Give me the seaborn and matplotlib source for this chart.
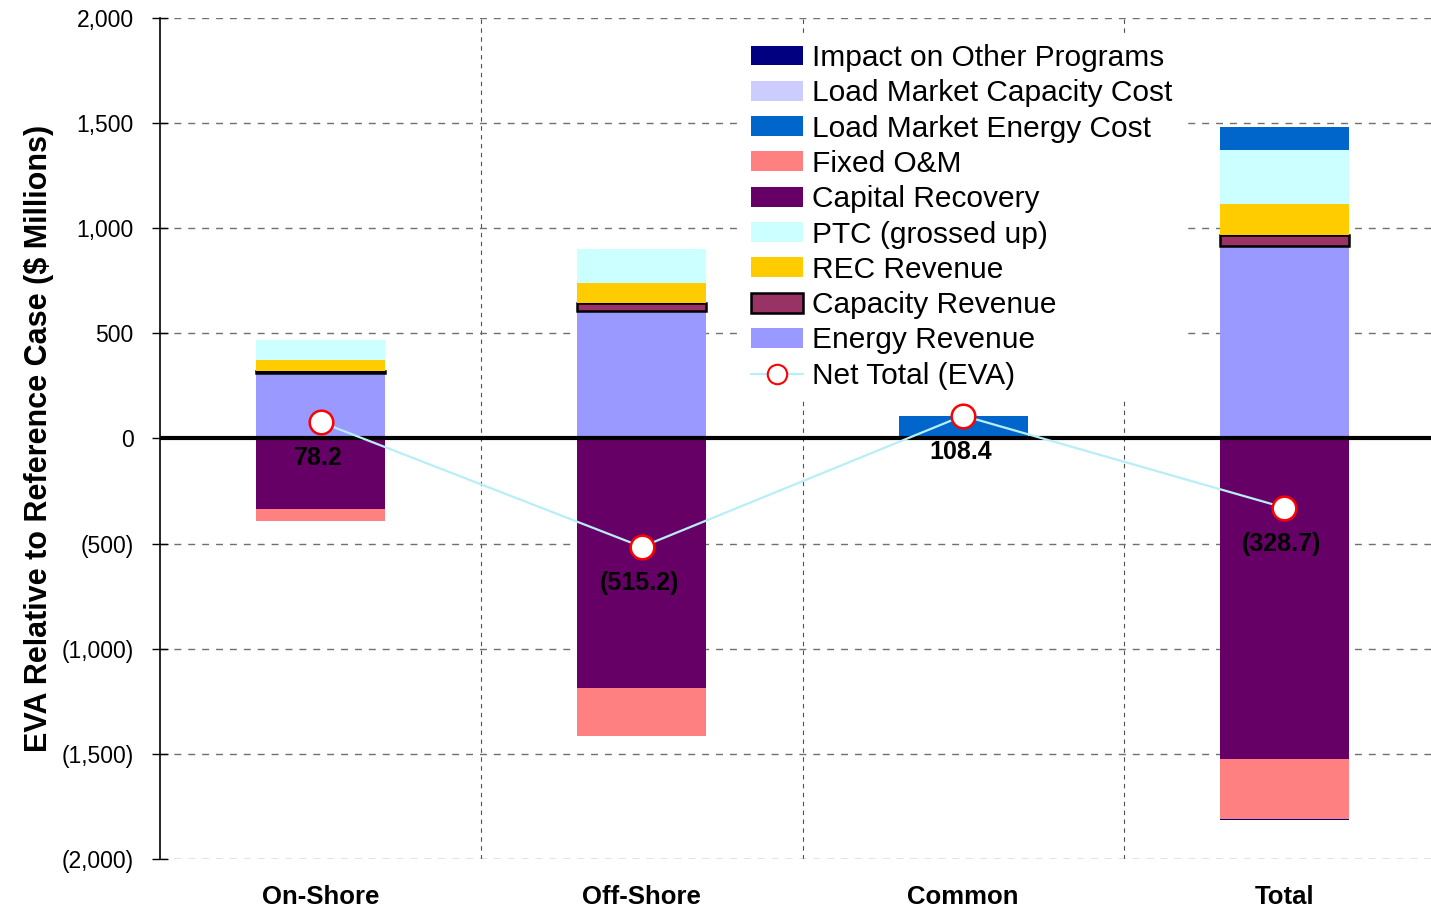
import matplotlib
matplotlib.use("Agg")
import matplotlib.pyplot as plt
from matplotlib.lines import Line2D
from matplotlib.patches import Patch
import numpy as np
import seaborn as sns

# values in $ millions
categories = ["On-Shore", "Off-Shore", "Common", "Total"]
energy_revenue = [311, 605, 0, 916]
capacity_revenue = [12, 40, 0, 52]
rec_revenue = [52, 96, 0, 148]
ptc_grossed_up = [95, 160, 0, 255]
load_energy_cost = [0, 0, 108.4, 108.4]
load_capacity_cost = [0, 0, 0, 0]
capital_recovery = [-335, -1187, 0, -1522]
fixed_om = [-57, -229, 0, -286]
impact_other = [0, 0, 0, -5]
net_total = [78.2, -515.2, 108.4, -328.7]
net_labels = ["78.2", "(515.2)", "108.4", "(328.7)"]

colors = {
    "Impact on Other Programs": "#000080",
    "Load Market Capacity Cost": "#CCCCFF",
    "Load Market Energy Cost": "#0066CC",
    "Fixed O&M": "#FF8080",
    "Capital Recovery": "#660066",
    "PTC (grossed up)": "#CCFFFF",
    "REC Revenue": "#FFCC00",
    "Capacity Revenue": "#993366",
    "Energy Revenue": "#9999FF",
}

sns.set_style("white")
plt.rcParams["font.family"] = ["Liberation Sans", "DejaVu Sans"]
plt.rcParams["text.color"] = "black"
plt.rcParams["axes.labelcolor"] = "black"
plt.rcParams["xtick.color"] = "black"
plt.rcParams["ytick.color"] = "black"

fig = plt.figure(figsize=(14.31, 9.08), dpi=100)
# axes run slightly past the right edge of the figure, as in the original
ax = fig.add_axes([160 / 1431, 49 / 908, 1285 / 1431, 841 / 908])

bar_w = 0.402
pos_layers = [
    ("Energy Revenue", energy_revenue),
    ("Capacity Revenue", capacity_revenue),
    ("REC Revenue", rec_revenue),
    ("PTC (grossed up)", ptc_grossed_up),
    ("Load Market Energy Cost", load_energy_cost),
    ("Load Market Capacity Cost", load_capacity_cost),
]
neg_layers = [
    ("Capital Recovery", capital_recovery),
    ("Fixed O&M", fixed_om),
    ("Impact on Other Programs", impact_other),
]

for layers in (pos_layers, neg_layers):
    bottom = np.zeros(len(categories))
    for name, vals in layers:
        vals = np.array(vals, dtype=float)
        edge = dict(edgecolor="black", linewidth=1.8) if name == "Capacity Revenue" else dict(linewidth=0)
        sns.barplot(x=categories, y=vals, order=categories, bottom=bottom,
                    color=colors[name], saturation=1, width=bar_w, ax=ax, zorder=2, **edge)
        bottom = bottom + vals

# grid + zero line
ax.set_ylim(-2000, 2000)
ax.set_xlim(-0.5, 3.5)
ax.set_yticks(np.arange(-2000, 2001, 500))
ax.yaxis.grid(True, color="#707070", linestyle=(0, (5, 5)), linewidth=1)
for b in [0.5, 1.5, 2.5]:
    ax.axvline(b, color="#505050", linestyle=(0, (4, 4)), linewidth=0.8, zorder=0)
ax.set_axisbelow(True)
ax.axhline(0, color="black", linewidth=3, zorder=3)

# net total line
x_pos = np.arange(len(categories))
sns.lineplot(x=x_pos, y=net_total, ax=ax, color="#B8EEF5", linewidth=1.6,
             marker="o", markersize=17, markerfacecolor="white",
             markeredgecolor="red", markeredgewidth=1.8, zorder=5)
for xi, yi, lab in zip(x_pos, net_total, net_labels):
    ax.annotate(lab, (xi, yi), xytext=(-2, -26), textcoords="offset points",
                ha="center", va="center", fontsize=18, fontweight="bold",
                color="black", zorder=6)

# axes styling
for s in ["top", "right", "bottom"]:
    ax.spines[s].set_visible(False)
ax.spines["left"].set_color("black")
ax.spines["left"].set_linewidth(1.2)
ax.set_yticklabels(["(2,000)", "(1,500)", "(1,000)", "(500)", "0",
                    "500", "1,000", "1,500", "2,000"])
ax.tick_params(axis="y", direction="inout", length=12, width=1, labelsize=16.5, pad=13, left=True)
ax.set_xticks(x_pos)
ax.set_xticklabels(categories, fontsize=18.5, fontweight="bold")
ax.tick_params(axis="x", length=0, pad=19)
ax.set_xlabel("")
ax.set_ylabel("EVA Relative to Reference Case ($ Millions)", fontsize=22,
              fontweight="bold", labelpad=5)

# legend
handles = [Patch(facecolor=colors[n], edgecolor="black" if n == "Capacity Revenue" else "none",
                 linewidth=1.8 if n == "Capacity Revenue" else 0, label=n)
           for n in colors]
handles.append(Line2D([0], [0], color="#B8EEF5", linewidth=1.6, marker="o", markersize=14,
                      markerfacecolor="white", markeredgecolor="red", markeredgewidth=1.5,
                      label="Net Total (EVA)"))
leg = ax.legend(handles=handles, loc="upper left", bbox_to_anchor=(742 / 1431, 1 - 35 / 908),
                bbox_transform=fig.transFigure, borderaxespad=0, fontsize=21.5,
                frameon=True, framealpha=1, edgecolor="none", fancybox=False,
                handlelength=1.75, handleheight=0.65, handletextpad=0.3, labelspacing=0.245,
                borderpad=0.3)
leg.set_zorder(10)

fig.savefig("out.png", dpi=100)
